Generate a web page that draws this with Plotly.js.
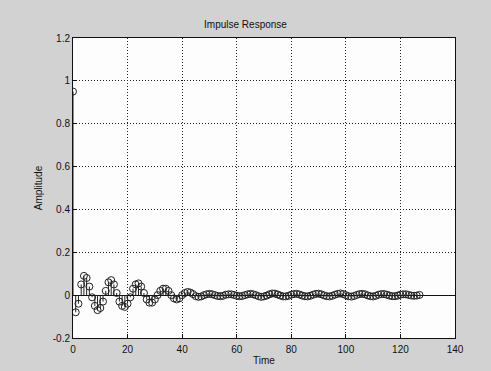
<!DOCTYPE html>
<html>
<head>
<meta charset="utf-8">
<script src="https://cdn.plot.ly/plotly-3.0.1.min.js"></script>
<style>html,body{margin:0;padding:0;background:#d2d2d2;}#chart{width:491px;height:371px;}</style>
</head>
<body>
<div id="chart"></div>
<script>
const amplitude = [
  0.95, -0.08, -0.04, 0.05, 0.09, 0.08, 0.04, -0.01, -0.05, -0.07,
  -0.06, -0.03, 0.02, 0.06, 0.07, 0.05, 0.01, -0.03, -0.05, -0.055,
  -0.04, -0.01, 0.03, 0.05, 0.055, 0.04, 0.01, -0.02, -0.035, -0.035,
  -0.02, 0.0, 0.02, 0.03, 0.03, 0.02, 0.0, -0.015, -0.02, -0.015,
  0.0, 0.01, 0.015, 0.012, 0.005, -0.005, -0.008, -0.006, 0.0, 0.004,
  0.006, 0.004, 0.0, -0.004, -0.005, -0.003, 0.002, 0.004, 0.004, 0.001,
  -0.003, -0.005, -0.004, 0.0, 0.004, 0.006, 0.004, 0.0, -0.005, -0.008,
  -0.006, -0.002, 0.004, 0.008, 0.007, 0.003, -0.002, -0.006, -0.006, -0.003,
  0.002, 0.005, 0.006, 0.003, -0.002, -0.005, -0.006, -0.003, 0.002, 0.006,
  0.007, 0.004, -0.001, -0.005, -0.006, -0.003, 0.002, 0.006, 0.008, 0.005,
  0.0, -0.005, -0.007, -0.004, 0.001, 0.005, 0.006, 0.004, -0.001, -0.005,
  -0.006, -0.003, 0.002, 0.005, 0.005, 0.002, -0.002, -0.005, -0.005, -0.002,
  0.002, 0.004, 0.004, 0.001, -0.002, -0.003, -0.002, 0.001
];
const time = amplitude.map((_, i) => i);
const xTicks = [0, 20, 40, 60, 80, 100, 120, 140];
const yTicks = [-0.2, 0, 0.2, 0.4, 0.6, 0.8, 1, 1.2];
const yTickText = ['-0.2', '0', '0.2', '0.4', '0.6', '0.8', '1', '1.2'];

const up = amplitude.map(v => v < 0 ? -v : 0);
const down = amplitude.map(v => v > 0 ? v : 0);

const trace = {
  x: time, y: amplitude, type: 'scatter', mode: 'markers',
  marker: {symbol: 'circle-open', size: 7, color: '#222', line: {width: 1, color: '#222'}},
  error_y: {type: 'data', symmetric: false, array: up, arrayminus: down, width: 0, thickness: 1, color: '#222'},
  hoverinfo: 'skip'
};

const font = {family: 'Liberation Sans, Arial, sans-serif', size: 10, color: '#111'};
const layout = {
  width: 491, height: 371,
  margin: {l: 73, r: 36, t: 38, b: 33},
  paper_bgcolor: '#d2d2d2', plot_bgcolor: '#fdfdfd',
  font: font,
  showlegend: false,
  title: {text: 'Impulse Response', font: {family: font.family, size: 10, color: '#111'}, x: 0.5, xanchor: 'center', y: 0.935, yanchor: 'middle'},
  xaxis: {
    range: [0, 140], tickvals: xTicks, ticktext: xTicks.map(String),
    showgrid: true, gridcolor: '#222', griddash: '1px,2px', gridwidth: 1,
    zeroline: false, showline: true, linecolor: '#111', linewidth: 1, mirror: true,
    ticks: 'inside', ticklen: 4, tickcolor: '#111', ticklabelstandoff: 2,
    title: {text: 'Time', font: {size: 10}, standoff: 2}
  },
  yaxis: {
    range: [-0.2, 1.2], tickvals: yTicks, ticktext: yTickText,
    showgrid: true, gridcolor: '#222', griddash: '1px,2px', gridwidth: 1,
    zeroline: true, zerolinecolor: '#111', zerolinewidth: 1,
    showline: true, linecolor: '#111', linewidth: 1, mirror: true,
    ticks: 'inside', ticklen: 4, tickcolor: '#111',
    title: {text: 'Amplitude', font: {size: 10}, standoff: 8}
  }
};
Plotly.newPlot('chart', [trace], layout, {displayModeBar: false, staticPlot: true});
</script>
</body>
</html>
